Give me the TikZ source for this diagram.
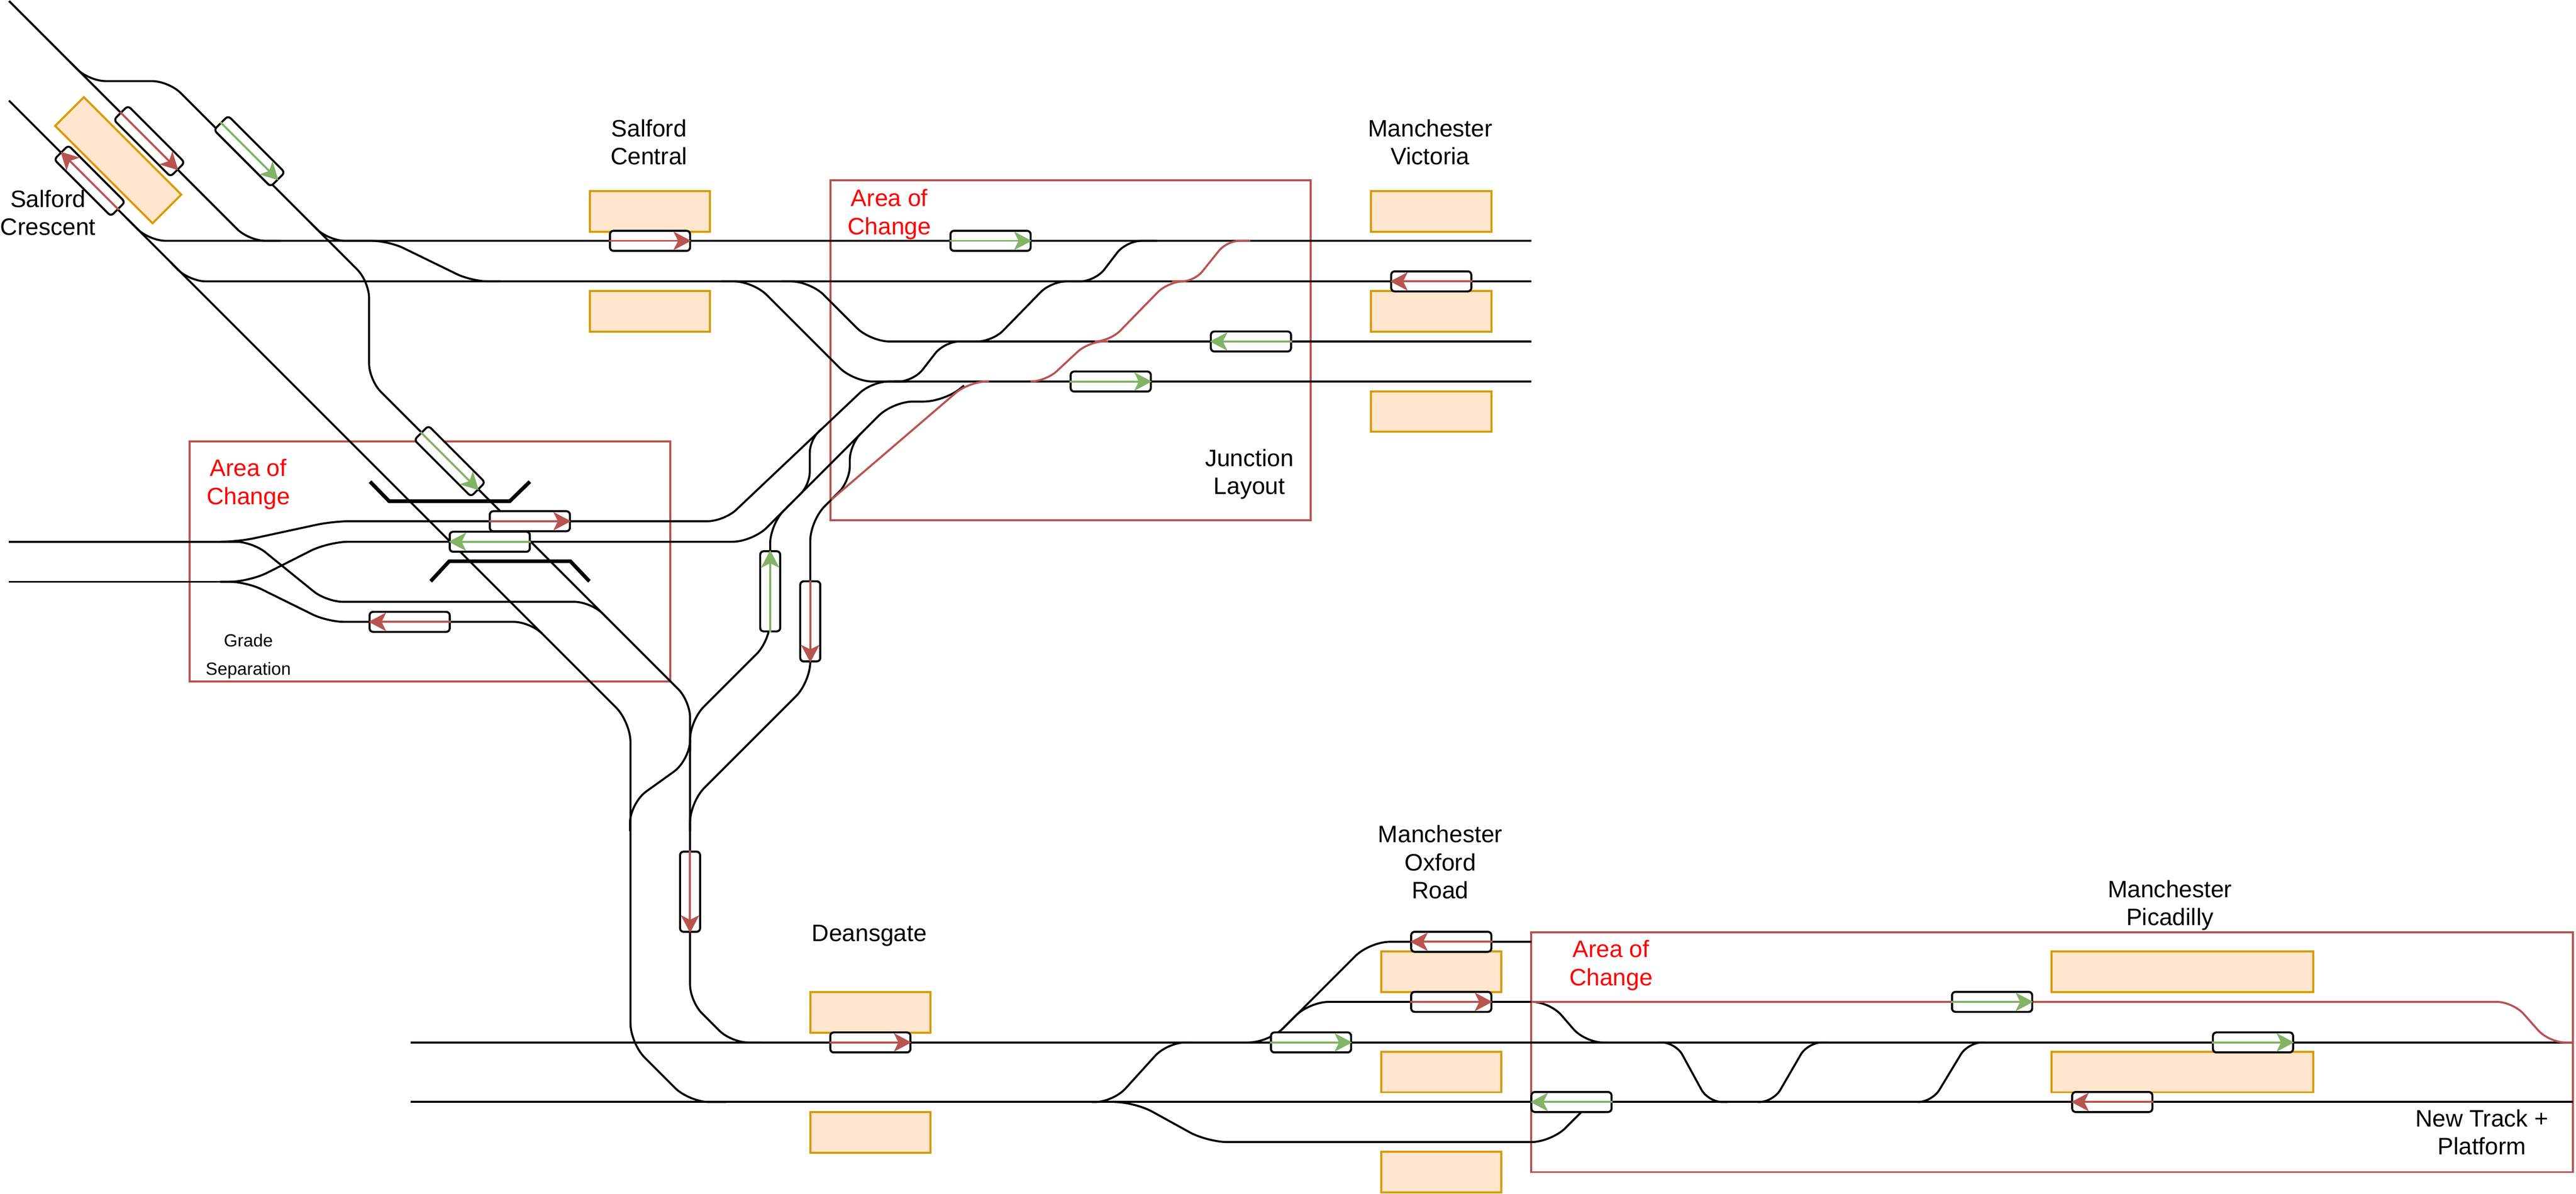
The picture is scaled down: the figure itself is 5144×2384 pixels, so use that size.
\documentclass[tikz,border=0pt]{standalone}
\usepackage{fontspec}
\setmainfont{Liberation Sans}
\usetikzlibrary{arrows.meta}
\definecolor{redline}{HTML}{B85450}
\definecolor{greenline}{HTML}{82B366}
\definecolor{stationfill}{HTML}{FFE6CC}
\definecolor{stationline}{HTML}{D79B00}
\tikzset{
  track/.style={draw=black,line width=1.14pt,rounded corners=.33cm},
  newtrack/.style={draw=redline,line width=1.14pt,rounded corners=.3cm},
  barline/.style={draw=black,line width=2.1pt},
  area/.style={draw=redline,line width=1.14pt,fill=none},
  station/.style={draw=stationline,fill=stationfill,line width=1.14pt,inner sep=0pt,minimum width=2.4cm,minimum height=.81cm},
  train/.style={draw=black,fill=white,line width=1.14pt,rounded corners=.07cm,inner sep=0pt,minimum width=1.6cm,minimum height=.4cm},
  redarrow/.style={draw=redline,line width=1.14pt,-{Stealth[length=10pt,width=10.5pt,inset=2.6pt,fill=redline]}},
  greenarrow/.style={draw=greenline,line width=1.14pt,-{Stealth[length=10pt,width=10.5pt,inset=2.6pt,fill=greenline]}},
  label/.style={align=center,inner sep=0pt,font=\fontsize{13.5}{15.93}\selectfont},
  changelabel/.style={label,text={rgb,255:red,255;green,0;blue,0}},
  smalllabel/.style={align=center,inner sep=0pt,font=\fontsize{10}{15.93}\selectfont}
}
\begin{document}
\begin{tikzpicture}[x=0.01cm,y=-0.01cm]
\useasboundingbox (0,0) rectangle (5144,2384);
% areas of change
\draw[area] (379,882) rectangle (1338,1361);
\draw[area] (1658,360) rectangle (2617,1039);
\draw[area] (3058,1862) rectangle (5138,2341);
% main tracks, north west
\draw[track] (18,2) -- (497,481) -- (3058,481);
\draw[track] (140,124) -- (178,162) -- (337,162) -- (737,562) -- (737,759) -- (1378,1400) -- (1378,2000) -- (1460,2082) -- (1520,2082);
\draw[track,rounded corners=.4cm] (18,201) -- (1259,1442) -- (1259,2084) -- (1376,2201) -- (1450,2201);
\draw[track] (255,438) -- (298,481) -- (560,481);
\draw[track] (340,523) -- (378,562) -- (3058,562);
\draw[track] (620,445) -- (656,481) -- (720,481);
\draw[track] (720,481) -- (776,481) -- (942,562) -- (1000,562);
% grade separation
\draw[track] (18,1082) -- (480,1082);
\draw[track] (18,1162) -- (480,1162);
\draw[track] (440,1082) -- (475,1082) -- (665,1041) -- (1446,1041) -- (1741,762) -- (1810,762);
\draw[track,rounded corners=.4cm] (440,1162) -- (498,1162) -- (656,1082) -- (1503,1082) -- (1783,802) -- (1885,802) -- (1925,770);
\draw[track] (440,1082) -- (504,1082) -- (652,1202) -- (1180,1202) -- (1215,1237);
\draw[track] (440,1162) -- (492,1162) -- (654,1242) -- (1059,1242) -- (1079,1262);
% links to the junction
\draw[track,rounded corners=.38cm] (1580,1005) -- (1538,1047) -- (1538,1279) -- (1378,1439) -- (1378,1500);
\draw[track,rounded corners=.4cm] (1670,988) -- (1618,1040) -- (1618,1362) -- (1378,1602) -- (1378,1660);
\draw[track,rounded corners=.25cm] (1640,857) -- (1617,879) -- (1617,968) -- (1595,990);
\draw[track,rounded corners=.3cm] (1720,865) -- (1697,888) -- (1697,961) -- (1660,998);
\draw[track,rounded corners=.4cm] (1378,1480) -- (1378,1518) -- (1258,1604) -- (1258,1660);
% junction
\draw[track,rounded corners=.38cm] (1440,562) -- (1504,562) -- (1704,762) -- (3058,762);
\draw[track,rounded corners=.38cm] (1560,562) -- (1618,562) -- (1738,682) -- (3058,682);
\draw[track,rounded corners=.3cm] (1785,762) -- (1824,762) -- (1886,682) -- (1950,682);
\draw[track,rounded corners=.3cm] (1950,682) -- (1982,682) -- (2099,562) -- (2160,562);
\draw[track,rounded corners=.3cm] (2140,562) -- (2187,562) -- (2249,481) -- (2310,481);
% south
\draw[track] (820,2082) -- (5138,2082);
\draw[track] (820,2201) -- (5138,2201);
\draw[track,rounded corners=.36cm] (2180,2201) -- (2223,2201) -- (2331,2082) -- (2380,2082);
\draw[track,rounded corners=.4cm] (2240,2201) -- (2266,2201) -- (2411,2281) -- (3098,2281) -- (3178,2201);
\draw[track,rounded corners=.4cm] (2490,2082) -- (2534,2082) -- (2735,1881) -- (3058,1881);
\draw[track,rounded corners=.38cm] (2560,2056) -- (2615,2001) -- (3058,2001);
\draw[track,rounded corners=.35cm] (3058,2001) -- (3095,2001) -- (3165,2082) -- (3210,2082);
\draw[track,rounded corners=.28cm] (3310,2082) -- (3346,2082) -- (3411,2201) -- (3450,2201);
\draw[track,rounded corners=.28cm] (3510,2201) -- (3541,2201) -- (3610,2082) -- (3650,2082);
\draw[track,rounded corners=.28cm] (3830,2201) -- (3858,2201) -- (3930,2082) -- (3965,2082);
% new tracks
\draw[newtrack,rounded corners=.35cm] (1660,998) -- (1935,762) -- (1975,762);
\draw[newtrack] (2059,762) -- (2088,762) -- (2174,682) -- (2213,682);
\draw[newtrack] (2186,682) -- (2216,682) -- (2333,562) -- (2359,562);
\draw[newtrack,rounded corners=.25cm] (2340,562) -- (2385,562) -- (2450,481) -- (2497,481);
\draw[newtrack,rounded corners=.32cm] (3058,2001) -- (5018,2001) -- (5090,2082) -- (5138,2082);
% thick bars
\draw[barline] (739,962) -- (777,1001) -- (1018,1001) -- (1058,962);
\draw[barline] (860,1161) -- (897,1121) -- (1139,1121) -- (1177,1161);
% stations
\node[station,rotate=-45,minimum width=2.75cm] (pSalfordCrescent) at (236,320) {};
\node[station] (pSalfordA) at (1298,422) {};
\node[station] (pSalfordB) at (1298,622) {};
\node[station] (pVictoriaA) at (2858,422) {};
\node[station] (pVictoriaB) at (2858,622) {};
\node[station] (pVictoriaC) at (2858,822) {};
\node[station] (pDeansA) at (1738,2022) {};
\node[station] (pDeansB) at (1738,2262) {};
\node[station] (pOxfordA) at (2878,1941) {};
\node[station] (pOxfordB) at (2878,2141) {};
\node[station] (pOxfordC) at (2878,2341) {};
\node[station,minimum width=5.22cm] (pPicA) at (4358,1941) {};
\node[station,minimum width=5.22cm] (pPicB) at (4358,2141) {};
% trains
\node[train,rotate=-45] (tA) at (298,282) {};
\node[train,rotate=-45] (tB) at (179,361) {};
\node[train,rotate=-45] (tC) at (498,302) {};
\node[train,rotate=-45] (tD) at (898,921) {};
\node[train] (tE) at (1298,481) {};
\node[train] (tF) at (1978,481) {};
\node[train] (tG) at (2858,562) {};
\node[train] (tH) at (2498,682) {};
\node[train] (tI) at (2218,762) {};
\node[train] (tJ) at (1058,1041) {};
\node[train] (tK) at (978,1082) {};
\node[train] (tL) at (818,1242) {};
\node[train,rotate=-90] (tM) at (1538,1181) {};
\node[train,rotate=-90] (tN) at (1618,1241) {};
\node[train,rotate=-90] (tO) at (1378,1781) {};
\node[train] (tP) at (1738,2082) {};
\node[train] (tQ) at (2618,2082) {};
\node[train] (tR) at (2898,1881) {};
\node[train] (tS) at (2898,2001) {};
\node[train] (tT) at (3138,2201) {};
\node[train] (tU) at (3978,2001) {};
\node[train] (tV) at (4499,2082) {};
\node[train] (tW) at (4218,2201) {};
% direction arrows
\draw[redarrow] (tA.west) -- (tA.east);
\draw[redarrow] (tB.east) -- (tB.west);
\draw[greenarrow] (tC.west) -- (tC.east);
\draw[greenarrow] (tD.west) -- (tD.east);
\draw[redarrow] (tE.west) -- (tE.east);
\draw[greenarrow] (tF.west) -- (tF.east);
\draw[redarrow] (tG.east) -- (tG.west);
\draw[greenarrow] (tH.east) -- (tH.west);
\draw[greenarrow] (tI.west) -- (tI.east);
\draw[redarrow] (tJ.west) -- (tJ.east);
\draw[greenarrow] (tK.east) -- (tK.west);
\draw[redarrow] (tL.east) -- (tL.west);
\draw[greenarrow] (tM.east) -- (tM.west);
\draw[redarrow] (tN.west) -- (tN.east);
\draw[redarrow] (tO.west) -- (tO.east);
\draw[redarrow] (tP.west) -- (tP.east);
\draw[greenarrow] (tQ.west) -- (tQ.east);
\draw[redarrow] (tR.east) -- (tR.west);
\draw[redarrow] (tS.west) -- (tS.east);
\draw[greenarrow] (tT.east) -- (tT.west);
\draw[greenarrow] (tU.west) -- (tU.east);
\draw[greenarrow] (tV.west) -- (tV.east);
\draw[redarrow] (tW.east) -- (tW.west);
% labels
\node[label] (lCrescent) at (96,425) {Salford\\Crescent};
\node[label] (lCentral) at (1296,284) {Salford\\Central};
\node[label] (lVictoria) at (2856,284) {Manchester\\Victoria};
\node[label] (lDeansgate) at (1736,1869) {Deansgate};
\node[label] (lOxford) at (2876,1722) {Manchester\\Oxford\\Road};
\node[label] (lPicadilly) at (4333,1808) {Manchester\\Picadilly};
\node[label] (lJunction) at (2495,947) {Junction\\Layout};
\node[label] (lNewTrack) at (4956,2261) {New Track +\\Platform};
\node[smalllabel] (lGrade) at (496,1311) {Grade\\Separation};
\node[changelabel] (cA) at (496,967) {Area of\\Change};
\node[changelabel] (cB) at (1776,428) {Area of\\Change};
\node[changelabel] (cC) at (3217,1928) {Area of\\Change};
\end{tikzpicture}
\end{document}
